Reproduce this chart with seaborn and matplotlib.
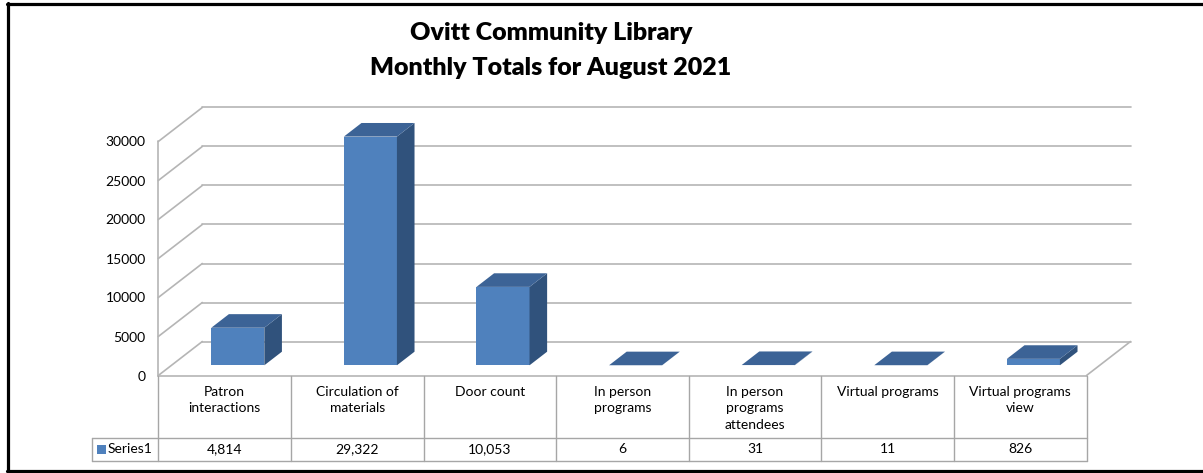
import numpy as np
import pandas as pd
import matplotlib
matplotlib.use("Agg")
import matplotlib.pyplot as plt
from matplotlib.lines import Line2D
from matplotlib.patches import Polygon, Rectangle
import seaborn as sns

# Chart data
categories = ["Patron interactions", "Circulation of materials", "Door count",
              "In person programs", "In person programs attendees",
              "Virtual programs", "Virtual programs view"]
table_labels = ["Patron\ninteractions", "Circulation of\nmaterials", "Door count",
                "In person\nprograms", "In person\nprograms\nattendees",
                "Virtual programs", "Virtual programs\nview"]
values = [4814, 29322, 10053, 6, 31, 11, 826]
series_name = "Series1"
y_ticks = [0, 5000, 10000, 15000, 20000, 25000, 30000]
title_lines = ["Ovitt Community Library", "Monthly Totals for August 2021"]

df = pd.DataFrame({"category": categories, "value": values})

# Layout in pixels
W, H = 1203, 473
PX_CAT = 132.6               # pixels per category
PX_VAL = 234 / 30000         # pixels per value unit
FLOOR_LEFT = 158.3
BASE_Y = 375.5               # pixel row of value 0 (front)
AX_TOP = 100
TABLE_SPLIT = 62             # header row height
TABLE_BOTTOM = 85.5
DX = 44 / PX_CAT             # depth offset, category units
DY = 34 / PX_VAL             # depth offset, value units
Z0, Z1 = 0.3, 0.7            # bar depth span

FRONT = "#4F81BD"
TOP = "#3C6396"
SIDE = "#30527C"
GRID = "#B5B5B5"
TABLE = "#A6A6A6"

sns.set_theme(style="white")
plt.rcParams["font.family"] = ["Lato", "DejaVu Sans"]
plt.rcParams["text.color"] = "black"

fig = plt.figure(figsize=(W / 100, H / 100), dpi=100)
n = len(categories)
x_lo, x_hi = -0.5, n - 0.5 + DX
ax_w = (x_hi - x_lo) * PX_CAT / W
ax = fig.add_axes([FLOOR_LEFT / W, (H - BASE_Y) / H, ax_w, (BASE_Y - AX_TOP) / H])

# walls and floor
for v in y_ticks:
    ax.plot([x_lo, x_lo + DX], [v, v + DY], color=GRID, lw=1.2, zorder=1, clip_on=False)
    ax.plot([x_lo + DX, n - 0.5 + DX], [v + DY, v + DY], color=GRID, lw=1.2, zorder=1, clip_on=False)
ax.plot([x_lo, x_lo], [0, y_ticks[-1]], color=GRID, lw=1.2, zorder=1, clip_on=False)
ax.plot([x_lo, n - 0.5], [0, 0], color=GRID, lw=1.2, zorder=1, clip_on=False)
ax.plot([n - 0.5, n - 0.5 + DX], [0, DY], color=GRID, lw=1.2, zorder=1, clip_on=False)

# front faces of the bars
sns.barplot(data=df, x="category", y="value", width=0.4, color=FRONT,
            saturation=1, ax=ax, zorder=3, linewidth=0)

ddx, ddy = (Z1 - Z0) * DX, (Z1 - Z0) * DY
for p in list(ax.patches):
    x0 = p.get_x() + Z0 * DX
    y0 = Z0 * DY
    w, h = p.get_width(), p.get_height()
    p.set_x(x0)
    p.set_y(y0)
    top = [(x0, y0 + h), (x0 + w, y0 + h), (x0 + w + ddx, y0 + h + ddy), (x0 + ddx, y0 + h + ddy)]
    side = [(x0 + w, y0), (x0 + w + ddx, y0 + ddy), (x0 + w + ddx, y0 + h + ddy), (x0 + w, y0 + h)]
    ax.add_patch(Polygon(side, closed=True, facecolor=SIDE, edgecolor="none", zorder=3))
    ax.add_patch(Polygon(top, closed=True, facecolor=TOP, edgecolor="none", zorder=3))

ax.set_xlim(x_lo, x_hi)
ax.set_ylim(0, (BASE_Y - AX_TOP) / PX_VAL)
ax.set_xticks([])
ax.set_yticks(y_ticks)
ax.set_yticklabels([str(t) for t in y_ticks])
ax.tick_params(axis="y", length=0, pad=9, labelsize=10, labelcolor="black")
ax.set_xlabel("")
ax.set_ylabel("")
for s in ax.spines.values():
    s.set_visible(False)
ax.patch.set_alpha(0)

# data table
tax = fig.add_axes([FLOOR_LEFT / W, (H - BASE_Y - TABLE_BOTTOM) / H, ax_w, TABLE_BOTTOM / H])
tax.set_xlim(x_lo, x_hi)
tax.set_ylim(TABLE_BOTTOM, 0)
tax.axis("off")
for k in range(n + 1):
    tax.plot([x_lo + k, x_lo + k], [0, TABLE_BOTTOM], color=TABLE, lw=1, clip_on=False)
for yy in [TABLE_SPLIT, TABLE_BOTTOM]:
    tax.plot([x_lo - 0.5, n - 0.5], [yy, yy], color=TABLE, lw=1, clip_on=False)
tax.plot([x_lo - 0.5, x_lo - 0.5], [TABLE_SPLIT, TABLE_BOTTOM], color=TABLE, lw=1, clip_on=False)

for i, (lab, val) in enumerate(zip(table_labels, values)):
    tax.text(i, 10, lab, ha="center", va="top", fontsize=10, linespacing=1.45)
    tax.text(i, (TABLE_SPLIT + TABLE_BOTTOM) / 2, f"{val:,}", ha="center", va="center", fontsize=10)

key = 9 / PX_CAT
tax.add_patch(Rectangle((x_lo - 0.5 + 5 / PX_CAT, TABLE_SPLIT + 7), key, 9,
                        facecolor=FRONT, edgecolor="none", clip_on=False))
tax.text(x_lo - 0.5 + 16 / PX_CAT, (TABLE_SPLIT + TABLE_BOTTOM) / 2, series_name,
         ha="left", va="center", fontsize=10, clip_on=False)

# title
for line, yp in zip(title_lines, [33, 68]):
    fig.text(551 / W, 1 - yp / H, line, ha="center", va="center",
             fontsize=18, fontweight="heavy", color="black")

# outer frame (right side is cut off in the original)
fig.add_artist(Line2D([7 / W, 1], [1 - 4.5 / H, 1 - 4.5 / H], color="black", lw=2.3, transform=fig.transFigure))
fig.add_artist(Line2D([8 / W, 8 / W], [1 - 3 / H, 1 - 471 / H], color="black", lw=2.3, transform=fig.transFigure))
fig.add_artist(Line2D([7 / W, 1], [1 - 470.5 / H, 1 - 470.5 / H], color="black", lw=2.3, transform=fig.transFigure))

fig.savefig("out.png", dpi=100)
